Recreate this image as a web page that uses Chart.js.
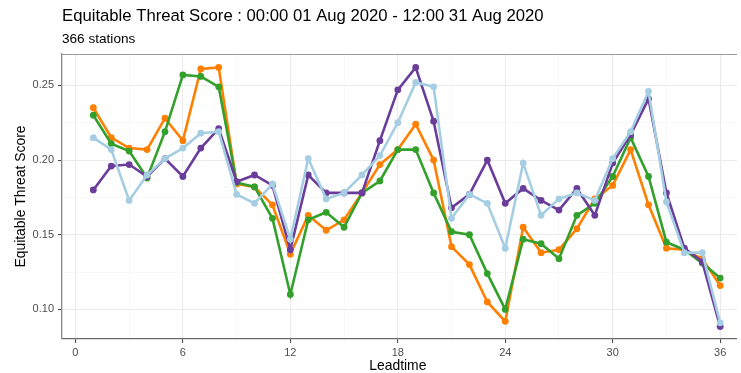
<!DOCTYPE html>
<html>
<head>
<meta charset="utf-8">
<script src="https://cdn.jsdelivr.net/npm/chart.js@4/dist/chart.umd.min.js"></script>
<style>
html,body{margin:0;padding:0;background:#fff;}
#wrap{width:741px;height:373px;position:relative;}
</style>
</head>
<body>
<div id="wrap"><canvas id="c" width="741" height="373"></canvas></div>
<script>
const titleText = "Equitable Threat Score : 00:00 01 Aug 2020 - 12:00 31 Aug 2020";
const subtitleText = "366 stations";
const xTitle = "Leadtime";
const yTitle = "Equitable Threat Score";

const leadtime = [1,2,3,4,5,6,7,8,9,10,11,12,13,14,15,16,17,18,19,20,21,22,23,24,25,26,27,28,29,30,31,32,33,34,35,36];
const xTickValues = [0,3,6,9,12,15,18,21,24,27,30,33,36];
const yTickValues = [0.10,0.125,0.15,0.175,0.20,0.225,0.25];

const purpleSeries = [0.180,0.196,0.197,0.189,0.201,0.189,0.208,0.221,0.1855,0.190,0.183,0.140,0.190,0.178,0.178,0.178,0.213,0.247,0.262,0.226,0.168,0.177,0.200,0.171,0.181,0.173,0.1665,0.181,0.163,0.198,0.217,0.241,0.178,0.141,0.132,0.0885];
const orangeSeries = [0.235,0.215,0.208,0.207,0.228,0.213,0.261,0.262,0.184,0.182,0.170,0.137,0.163,0.153,0.160,0.178,0.197,0.207,0.224,0.200,0.142,0.130,0.105,0.092,0.155,0.138,0.140,0.154,0.174,0.183,0.207,0.170,0.141,0.140,0.134,0.116];
const greenSeries = [0.230,0.211,0.206,0.188,0.219,0.257,0.256,0.249,0.185,0.182,0.161,0.110,0.160,0.165,0.155,0.178,0.186,0.207,0.207,0.178,0.152,0.150,0.124,0.100,0.147,0.144,0.134,0.163,0.171,0.189,0.215,0.189,0.145,0.140,0.131,0.121];
const lightBlueSeries = [0.215,0.207,0.173,0.190,0.201,0.208,0.218,0.219,0.177,0.171,0.184,0.147,0.201,0.174,0.178,0.190,0.203,0.225,0.252,0.249,0.161,0.177,0.171,0.141,0.198,0.163,0.174,0.178,0.173,0.201,0.219,0.246,0.172,0.138,0.138,0.091];

const FONT = "'Liberation Sans', Arial, Helvetica, sans-serif";

function mk(label, values, color, order) {
  return {
    label: label,
    data: leadtime.map((x, i) => ({x: x, y: values[i]})),
    borderColor: color,
    backgroundColor: color,
    pointBackgroundColor: color,
    pointBorderWidth: 0,
    pointRadius: 3.4,
    borderWidth: 2.6,
    tension: 0,
    order: order
  };
}

const textPlugin = {
  id: 'texts',
  afterDraw(chart) {
    const ctx = chart.ctx;
    const a = chart.chartArea;
    ctx.save();
    // top border
    ctx.strokeStyle = '#9a9a9a';
    ctx.lineWidth = 1.2;
    ctx.beginPath();
    ctx.moveTo(a.left, a.top + 0.5);
    ctx.lineTo(a.right, a.top + 0.5);
    ctx.stroke();
    ctx.fillStyle = '#000';
    ctx.textBaseline = 'alphabetic';
    ctx.textAlign = 'left';
    ctx.font = '16.7px ' + FONT;
    ctx.fillText(titleText, 62, 21);
    ctx.font = '13.6px ' + FONT;
    ctx.fillText(subtitleText, 62, 43);
    ctx.font = '13.9px ' + FONT;
    ctx.textAlign = 'center';
    ctx.textBaseline = 'middle';
    ctx.fillText(xTitle, (chart.scales.x.getPixelForValue(0) + chart.scales.x.getPixelForValue(36)) / 2, 366.5);
    ctx.translate(21, (a.top + a.bottom) / 2);
    ctx.rotate(-Math.PI / 2);
    ctx.fillText(yTitle, 0, 0);
    ctx.restore();
  }
};

new Chart(document.getElementById('c'), {
  type: 'line',
  data: {
    datasets: [
      mk('lightblue', lightBlueSeries, '#a6cee3', 0),
      mk('purple', purpleSeries, '#6a3d9a', 1),
      mk('green', greenSeries, '#33a02c', 2),
      mk('orange', orangeSeries, '#ff7f00', 3)
    ]
  },
  options: {
    responsive: false,
    animation: false,
    devicePixelRatio: 1,
    layout: {padding: {top: 54, right: 0, bottom: 0, left: 0}},
    plugins: {legend: {display: false}, tooltip: {enabled: false}, title: {display: false}},
    scales: {
      x: {
        type: 'linear',
        min: -0.75,
        max: 36.94,
        afterBuildTicks(scale) { scale.ticks = xTickValues.map(v => ({value: v})); },
        afterFit(scale) { scale.height = 34; },
        ticks: {
          autoSkip: false, maxRotation: 0, padding: 3,
          color: '#4d4d4d', font: {family: FONT, size: 11},
          callback: (v) => (v % 6 === 0 ? String(v) : '')
        },
        grid: {
          color: (c) => (c.tick && c.tick.value % 6 === 0 ? '#ebebeb' : '#f4f4f4'),
          lineWidth: (c) => (c.tick && c.tick.value % 6 === 0 ? 1.1 : 0.6),
          tickColor: (c) => (c.tick && c.tick.value % 6 === 0 ? '#4d4d4d' : 'rgba(0,0,0,0)'),
          tickLength: 4, drawTicks: true
        },
        border: {display: true, color: '#6b6b6b', width: 1.3}
      },
      y: {
        type: 'linear',
        min: 0.0802,
        max: 0.271,
        afterBuildTicks(scale) { scale.ticks = yTickValues.map(v => ({value: v})); },
        afterFit(scale) { scale.width = 62; },
        ticks: {
          padding: 4, color: '#4d4d4d', font: {family: FONT, size: 11},
          callback: (v) => (Math.abs(Math.round(v * 1000) % 50) < 1e-6 ? v.toFixed(2) : '')
        },
        grid: {
          color: (c) => (c.tick && Math.round(c.tick.value * 1000) % 50 === 0 ? '#ebebeb' : '#f4f4f4'),
          lineWidth: (c) => (c.tick && Math.round(c.tick.value * 1000) % 50 === 0 ? 1.1 : 0.6),
          tickColor: (c) => (c.tick && Math.round(c.tick.value * 1000) % 50 === 0 ? '#4d4d4d' : 'rgba(0,0,0,0)'),
          tickLength: 4, drawTicks: true
        },
        border: {display: true, color: '#8a8a8a', width: 1.3}
      }
    }
  },
  plugins: [textPlugin]
});
</script>
</body>
</html>
